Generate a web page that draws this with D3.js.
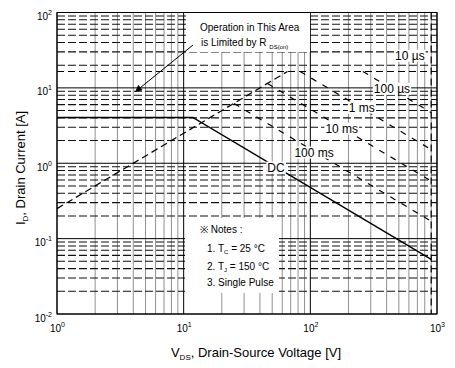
<!DOCTYPE html>
<html>
<head>
<meta charset="utf-8">
<script src="https://cdn.jsdelivr.net/npm/d3@7"></script>
<style>
  body { margin: 0; background: #fff; }
  svg { font-family: "Liberation Sans", Arial, sans-serif; }
  .hminor { stroke: #111; stroke-width: 1.1; stroke-dasharray: 8,3; }
  .vminor { stroke: #222; stroke-width: 1; stroke-dasharray: 1,1; }
  .major { stroke: #000; stroke-width: 1; }
  .frame { fill: none; stroke: #000; stroke-width: 1; }
  .limit { fill: none; stroke: #000; stroke-width: 1.2; stroke-dasharray: 7,4; }
  .pulse { fill: none; stroke: #000; stroke-width: 1.2; stroke-dasharray: 6,7; }
  .dc { fill: none; stroke: #000; stroke-width: 1.5; }
</style>
</head>
<body>
<svg id="chart" width="455" height="368"></svg>
<script>
// axis ticks (decades)
const xTicks = [1, 10, 100, 1000];
const yTicks = [0.01, 0.1, 1, 10, 100];

// limit lines
const rdsLine = [[1, 0.25], [66, 16.5]];
const idmLevel = 16.5;
const vdssLevel = 900;

// DC curve
const dcCurve = [[1, 4.05], [11.8, 4.05], [900, 0.053]];

// pulse curves (10 us runs along the Idm line)
const pulseCurves = [
  [[260, 16.5], [900, 4.7]],   // 100 us
  [[83, 16.5], [900, 1.52]],   // 1 ms
  [[46, 11.4], [900, 0.58]],   // 10 ms
  [[25, 6.2], [900, 0.17]]     // 100 ms
];

// curve labels, anchored in data coords
const curveLabels = ["10 µs", "100 µs", "1 ms", "10 ms", "100 ms", "DC"];
const labelAnchors = [[611, 26.9], [441, 9.84], [255, 5.5], [177, 2.9], [107, 1.4], [53.5, 0.885]];

const margin = {left: 57, top: 12.5, right: 18, bottom: 54};
const W = 455, H = 368;
const width = W - margin.left - margin.right;
const height = H - margin.top - margin.bottom;

const svg = d3.select("#chart");
const g = svg.append("g").attr("transform", `translate(${margin.left},${margin.top})`);

const x = d3.scaleLog().domain([1, 1000]).range([0, width]);
const y = d3.scaleLog().domain([0.01, 100]).range([height, 0]);

// minor values per decade
let xMinor = [], yMinor = [];
for (let d = 0; d < 3; d++)
  for (let k = 2; k <= 9; k++) xMinor.push(k * Math.pow(10, d));
for (let d = -2; d < 2; d++)
  for (let k = 2; k <= 9; k++) yMinor.push(k * Math.pow(10, d));

const grid = g.append("g");
grid.selectAll(".hminor").data(yMinor).enter().append("line")
  .attr("class", "hminor")
  .attr("x1", 0).attr("x2", width)
  .attr("y1", d => y(d)).attr("y2", d => y(d));
grid.selectAll(".vminor").data(xMinor).enter().append("line")
  .attr("class", "vminor")
  .attr("y1", 0).attr("y2", height)
  .attr("x1", d => x(d)).attr("x2", d => x(d));
grid.selectAll(".hmajor").data(yTicks).enter().append("line")
  .attr("class", "major")
  .attr("x1", 0).attr("x2", width)
  .attr("y1", d => y(d)).attr("y2", d => y(d));
grid.selectAll(".vmajor").data(xTicks).enter().append("line")
  .attr("class", "major")
  .attr("y1", 0).attr("y2", height)
  .attr("x1", d => x(d)).attr("x2", d => x(d));

// white boxes for annotations
g.append("rect").attr("x", 186 - margin.left).attr("y", 0.5)
  .attr("width", 124).attr("height", 39).attr("fill", "#fff");
g.append("rect").attr("x", 185 - margin.left).attr("y", 218 - margin.top)
  .attr("width", 94).attr("height", 75).attr("fill", "#fff");

const line = d3.line().x(d => x(d[0])).y(d => y(d[1]));

// limit lines
g.append("path").attr("class", "limit").attr("d", line(rdsLine));
g.append("path").attr("class", "limit").attr("d", line([[1, idmLevel], [1000, idmLevel]]));
g.append("path").attr("class", "limit").attr("d", line([[vdssLevel, 100], [vdssLevel, 0.01]]));

g.selectAll(".pulse").data(pulseCurves).enter().append("path")
  .attr("class", "pulse")
  .attr("d", d => line(d));

g.append("path").attr("class", "dc").attr("d", line(dcCurve));

// curve labels with white backing
const lab = g.selectAll(".clabel").data(curveLabels).enter().append("g")
  .attr("class", "clabel")
  .attr("transform", (d, i) => `translate(${x(labelAnchors[i][0])},${y(labelAnchors[i][1])})`);
lab.append("text")
  .attr("text-anchor", "middle")
  .attr("dy", "0.36em")
  .attr("font-size", 12)
  .text(d => d);
lab.each(function() {
  let t = d3.select(this).select("text");
  let b = t.node().getBBox();
  d3.select(this).insert("rect", "text")
    .attr("x", b.x - 1).attr("y", b.y + 1)
    .attr("width", b.width + 2).attr("height", b.height - 2)
    .attr("fill", "#fff");
});

// frame
g.append("rect").attr("class", "frame").attr("width", width).attr("height", height);

// axes
function supFormat(sel) {
  sel.selectAll(".tick text").each(function(d) {
    let t = d3.select(this).text("");
    t.append("tspan").text("10");
    t.append("tspan").attr("font-size", 7).attr("dy", -5).text(Math.round(Math.log10(d)));
  });
}

const xAxis = g.append("g")
  .attr("transform", `translate(0,${height})`)
  .call(d3.axisBottom(x).tickValues(xTicks).tickSize(0).tickPadding(11));
xAxis.select(".domain").remove();
xAxis.selectAll("text").attr("font-size", 10).attr("fill", "#000").attr("font-family", null);
supFormat(xAxis);

const yAxis = g.append("g")
  .call(d3.axisLeft(y).tickValues(yTicks).tickSize(0).tickPadding(5));
yAxis.select(".domain").remove();
yAxis.selectAll("text").attr("font-size", 10).attr("fill", "#000").attr("font-family", null)
  .attr("dy", "0.7em");
supFormat(yAxis);

// axis titles
const xt = svg.append("text")
  .attr("x", 256).attr("y", 357)
  .attr("text-anchor", "middle")
  .attr("font-size", 13);
xt.append("tspan").text("V");
xt.append("tspan").attr("font-size", 8).attr("dy", 3).text("DS");
xt.append("tspan").attr("dy", -3).text(", Drain-Source Voltage [V]");

const yt = svg.append("text")
  .attr("transform", "translate(25,168) rotate(-90)")
  .attr("text-anchor", "middle")
  .attr("font-size", 13);
yt.append("tspan").text("I");
yt.append("tspan").attr("font-size", 8).attr("dy", 3).text("D");
yt.append("tspan").attr("dy", -3).text(", Drain Current [A]");

// Rds(on) note and arrow
svg.append("defs").append("marker")
  .attr("id", "ah").attr("viewBox", "0 0 10 10")
  .attr("refX", 10).attr("refY", 5)
  .attr("markerWidth", 9).attr("markerHeight", 7)
  .attr("markerUnits", "userSpaceOnUse")
  .attr("orient", "auto")
  .append("path").attr("d", "M0,0L10,5L0,10z").attr("fill", "#000");

svg.append("line")
  .attr("x1", 193).attr("y1", 45).attr("x2", 135).attr("y2", 92)
  .attr("stroke", "#000").attr("stroke-width", 1)
  .attr("marker-end", "url(#ah)");

svg.append("text").attr("x", 200).attr("y", 31).attr("font-size", 10)
  .text("Operation in This Area");
const rt = svg.append("text").attr("x", 201).attr("y", 46).attr("font-size", 10);
rt.append("tspan").text("is Limited by R ");
rt.append("tspan").attr("font-size", 6).attr("dy", 3).text("DS(on)");

// notes
const notes = svg.append("g").attr("font-size", 10);
notes.append("text").attr("x", 200).attr("y", 233).text("※ Notes :");
const n1 = notes.append("text").attr("x", 207).attr("y", 252);
n1.append("tspan").text("1. T");
n1.append("tspan").attr("font-size", 6).attr("dy", 2).text("C");
n1.append("tspan").attr("dy", -2).text(" = 25 °C");
const n2 = notes.append("text").attr("x", 207).attr("y", 270);
n2.append("tspan").text("2. T");
n2.append("tspan").attr("font-size", 6).attr("dy", 2).text("J");
n2.append("tspan").attr("dy", -2).text(" = 150 °C");
notes.append("text").attr("x", 207).attr("y", 286).text("3. Single Pulse");
</script>
</body>
</html>
